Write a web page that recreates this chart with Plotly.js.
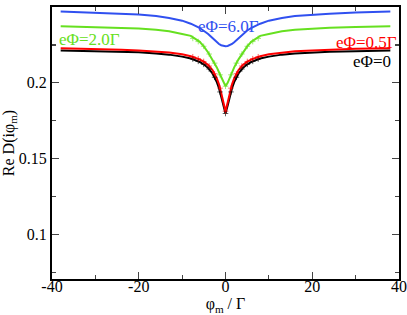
<!DOCTYPE html>
<html><head><meta charset="utf-8">
<script src="https://cdn.plot.ly/plotly-3.0.1.min.js"></script>
<style>body{margin:0;padding:0;background:#fff}#chart{width:407px;height:315px}</style>
</head><body><div id="chart"></div>
<script>
const xLine = [-38,-30,-24,-20,-16,-13,-10,-8,-6,-5,-4,-3,-2,-1.5,-1,-0.5,0,0.5,1,1.5,2,3,4,5,6,8,10,13,16,20,24,30,38];
const yPhi0 = [0.2213,0.2209,0.2205,0.2201,0.2194,0.2186,0.2173,0.2160,0.2138,0.2122,0.2098,0.2062,0.2005,0.1965,0.1910,0.1850,0.1798,0.1850,0.1910,0.1965,0.2005,0.2062,0.2098,0.2122,0.2138,0.2160,0.2173,0.2186,0.2194,0.2201,0.2205,0.2209,0.2213];
const yPhi05 = [0.2228,0.2224,0.2219,0.2214,0.2208,0.2200,0.2188,0.2175,0.2155,0.2140,0.2118,0.2085,0.2030,0.1990,0.1935,0.1870,0.1813,0.1870,0.1935,0.1990,0.2030,0.2085,0.2118,0.2140,0.2155,0.2175,0.2188,0.2200,0.2208,0.2214,0.2219,0.2224,0.2228];
const yPhi2 = [0.2373,0.2368,0.2363,0.2358,0.2350,0.2340,0.2322,0.2310,0.2272,0.2240,0.2200,0.2155,0.2102,0.2070,0.2035,0.2000,0.1978,0.2000,0.2035,0.2070,0.2102,0.2155,0.2200,0.2240,0.2272,0.2310,0.2322,0.2340,0.2350,0.2358,0.2363,0.2368,0.2373];
const yPhi6 = [0.2470,0.2463,0.2456,0.2450,0.2440,0.2428,0.2410,0.2390,0.2363,0.2345,0.2322,0.2295,0.2268,0.2256,0.2248,0.2243,0.2242,0.2243,0.2248,0.2256,0.2268,0.2295,0.2322,0.2345,0.2363,0.2390,0.2410,0.2428,0.2440,0.2450,0.2456,0.2463,0.2470];

const xPts = [-7.54,-6.28,-5.03,-3.77,-2.51,-1.26,0,1.26,2.51,3.77,5.03,6.28,7.54];
const pPhi0 = [0.2157,0.2142,0.2122,0.2091,0.2037,0.1940,0.1798,0.1940,0.2037,0.2091,0.2122,0.2142,0.2157];
const pPhi05 = [0.2172,0.2159,0.2141,0.2111,0.2060,0.1965,0.1813,0.1965,0.2060,0.2111,0.2141,0.2159,0.2172];
const pPhi2 = [0.2293,0.2272,0.2241,0.2190,0.2130,0.2053,0.1978,0.2053,0.2130,0.2190,0.2241,0.2272,0.2293];

const labels = ['eΦ=0','eΦ=0.5Γ','eΦ=2.0Γ','eΦ=6.0Γ'];
const colors = ['#000000','#ff0000','#66e020','#3050f0'];
const xTicks = [-40,-20,0,20,40];
const yTicks = [0.1,0.15,0.2,0.25];

const lines = [yPhi0,yPhi05,yPhi2,yPhi6];
const traces = [];
lines.forEach((ys,i)=>{
  traces.push({x:xLine,y:ys,mode:'lines',line:{color:colors[i],width:2},showlegend:false,hoverinfo:'none'});
});
[pPhi0,pPhi05,pPhi2].forEach((ys,i)=>{
  traces.push({x:xPts,y:ys,mode:'markers',marker:{symbol:'cross-thin',size:4,line:{color:colors[i],width:1}},opacity:0.6,showlegend:false,hoverinfo:'none'});
});

const font = {family:'"Liberation Serif", "DejaVu Serif", serif',size:16,color:'#000'};
const annPos = [[33.66,0.2140],[32.5,0.2266],[-31.35,0.2286],[0.69,0.2371]];
const annotations = labels.map((t,i)=>({x:annPos[i][0],y:annPos[i][1],xref:'x',yref:'y',text:t,showarrow:false,xanchor:'center',yanchor:'middle',font:{family:font.family,size:17,color:colors[i]}}));

const layout = {
  width:407,height:315,
  margin:{l:52,r:8,t:7,b:36},
  paper_bgcolor:'#fff',plot_bgcolor:'#fff',
  font:font,
  annotations:annotations,
  xaxis:{range:[-40,40],tickvals:xTicks,ticktext:xTicks.map(String),ticks:'inside',ticklen:7,tickwidth:1.2,
    showline:true,linewidth:2,linecolor:'#000',mirror:'ticks',showgrid:false,zeroline:false,
    ticklabelstandoff:-8,
    minor:{tickvals:[-30,-10,10,30],ticks:'inside',ticklen:4,tickwidth:1.2,showgrid:false},
    tickfont:{family:font.family,size:16},
    title:{text:'φ<sub>m</sub> / Γ',standoff:0,font:{family:font.family,size:16}}},
  yaxis:{range:[0.0707,0.25],tickvals:yTicks,ticktext:['0.1','0.15','0.2','0.25'],ticks:'inside',ticklen:7,tickwidth:1.2,
    showline:true,linewidth:2,linecolor:'#000',mirror:'ticks',showgrid:false,zeroline:false,
    minor:{tickvals:[0.075,0.125,0.175,0.225],ticks:'inside',ticklen:4,tickwidth:1.2,showgrid:false},
    tickfont:{family:font.family,size:16},
    title:{text:'Re D(iφ<sub>m</sub>)',standoff:4,font:{family:font.family,size:16}}}
};
Plotly.newPlot('chart',traces,layout,{staticPlot:true,displayModeBar:false});
</script></body></html>
